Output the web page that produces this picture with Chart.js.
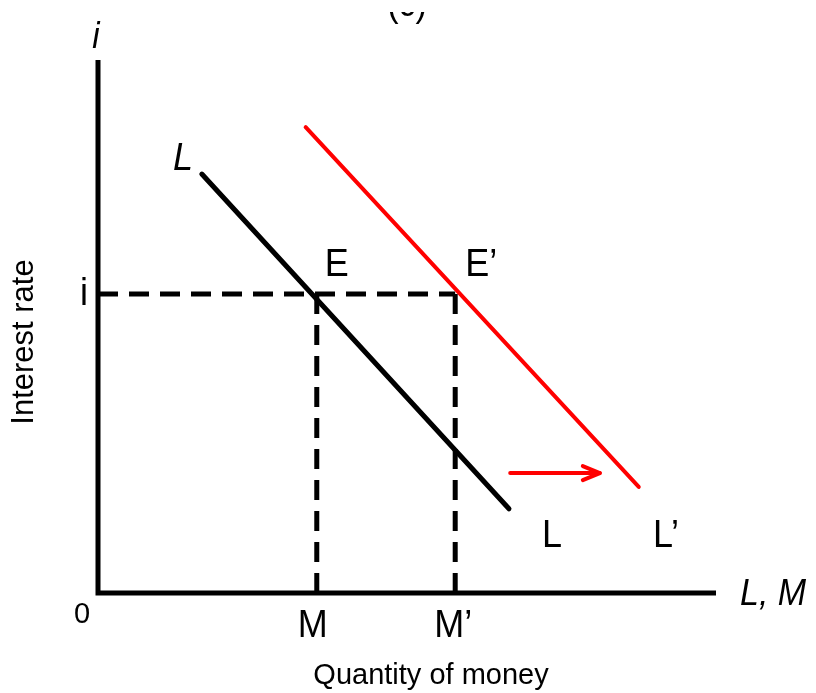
<!DOCTYPE html>
<html>
<head>
<meta charset="utf-8">
<script src="https://cdn.jsdelivr.net/npm/chart.js@4.4.1/dist/chart.umd.min.js"></script>
<style>
  html, body { margin: 0; padding: 0; background: #fff; }
  canvas { display: block; }
</style>
</head>
<body>
<canvas id="moneyChart" width="816" height="693"></canvas>
<script>
// money demand L and its shift to L'
const demandL = [{ x: 1.68, y: 7.86 }, { x: 6.65, y: 1.58 }];
const demandL2 = [{ x: 3.36, y: 8.74 }, { x: 8.75, y: 1.99 }];
// interest rate level and quantities at E and E'
const rateI = 5.61;
const qtyM = 3.54;
const qtyM2 = 5.78;
// shift arrow (tail, tip)
const shiftArrow = [{ x: 6.67, y: 2.25 }, { x: 8.12, y: 2.25 }];
const axisMax = 10;

const FONT = '"Liberation Sans", Arial, sans-serif';

function label(ctx, txt, x, y, opts) {
  opts = opts || {};
  ctx.save();
  if (opts.clipTop !== undefined) {
    ctx.beginPath();
    ctx.rect(0, opts.clipTop, chartWidth, 693);
    ctx.clip();
  }
  ctx.font = (opts.italic ? 'italic ' : '') + (opts.size || 36) + 'px ' + FONT;
  ctx.fillStyle = '#000';
  ctx.textAlign = opts.align || 'center';
  ctx.textBaseline = 'alphabetic';
  ctx.translate(x, y);
  if (opts.rotate) ctx.rotate(opts.rotate);
  ctx.scale(1, opts.stretch || 1.1);
  ctx.fillText(txt, 0, 0);
  ctx.restore();
}

const chartWidth = 816;

const textPlugin = {
  id: 'textPlugin',
  afterDatasetsDraw(chart) {
    const ctx = chart.ctx;
    const xs = chart.scales.x, ys = chart.scales.y;

    // red arrow head
    const tx = xs.getPixelForValue(shiftArrow[1].x);
    const ty = ys.getPixelForValue(shiftArrow[1].y);
    ctx.save();
    ctx.strokeStyle = '#ff0000';
    ctx.lineWidth = 4;
    ctx.lineCap = 'round';
    ctx.lineJoin = 'round';
    ctx.beginPath();
    ctx.moveTo(tx - 17, ty - 7);
    ctx.lineTo(tx, ty);
    ctx.lineTo(tx - 17, ty + 7);
    ctx.stroke();
    ctx.restore();

    const x0 = xs.getPixelForValue(0);
    const y0 = ys.getPixelForValue(0);
    const yi = ys.getPixelForValue(rateI);
    const xm = xs.getPixelForValue(qtyM);
    const xm2 = xs.getPixelForValue(qtyM2);

    // panel tag, top edge cut off
    label(ctx, '(c)', 407, 16, { size: 34, clipTop: 12 });
    label(ctx, 'i', x0 - 2, 48, { italic: true, size: 33 });
    label(ctx, 'L', 183, 170, { italic: true });
    label(ctx, 'E', xm + 20, yi - 18);
    label(ctx, 'E\u2019', xm2 + 10, yi - 18, { align: 'left' });
    label(ctx, 'i', x0 - 14, yi + 11);
    label(ctx, 'L', 542, 547, { align: 'left' });
    label(ctx, 'L\u2019', 653, 547, { align: 'left' });
    label(ctx, '0', x0 - 16, y0 + 30, { size: 29, stretch: 1 });
    label(ctx, 'M', xm - 4, y0 + 44);
    label(ctx, 'M\u2019', xm2 - 2, y0 + 44);
    label(ctx, 'L, M', 740, y0 + 12, { italic: true, size: 34, align: 'left' });
    label(ctx, 'Quantity of money', 431, 684, { size: 29, stretch: 1 });
    label(ctx, 'Interest rate', 33, 342, { size: 31, stretch: 1, rotate: -Math.PI / 2 });
  }
};

const dashed = {
  borderColor: '#000',
  borderWidth: 5,
  borderDash: [20, 11],
  pointRadius: 0,
  showLine: true,
  clip: false
};

new Chart(document.getElementById('moneyChart'), {
  type: 'scatter',
  data: {
    datasets: [
      {
        // axes
        data: [{ x: 0, y: axisMax }, { x: 0, y: 0 }, { x: axisMax, y: 0 }],
        borderColor: '#000',
        borderWidth: 5,
        borderJoinStyle: 'miter',
        pointRadius: 0,
        showLine: true,
        clip: false
      },
      Object.assign({ data: [{ x: 0, y: rateI }, { x: qtyM2, y: rateI }] }, dashed),
      Object.assign({ data: [{ x: qtyM, y: 0 }, { x: qtyM, y: rateI }] }, dashed),
      Object.assign({ data: [{ x: qtyM2, y: 0 }, { x: qtyM2, y: rateI }] }, dashed),
      {
        data: demandL,
        borderColor: '#000',
        borderWidth: 5,
        borderCapStyle: 'round',
        pointRadius: 0,
        showLine: true,
        clip: false
      },
      {
        data: demandL2,
        borderColor: '#ff0000',
        borderWidth: 4,
        borderCapStyle: 'round',
        pointRadius: 0,
        showLine: true,
        clip: false
      },
      {
        data: shiftArrow,
        borderColor: '#ff0000',
        borderWidth: 4,
        borderCapStyle: 'round',
        pointRadius: 0,
        showLine: true,
        clip: false
      }
    ]
  },
  options: {
    responsive: false,
    animation: false,
    devicePixelRatio: 1,
    layout: { padding: { left: 98, right: 100, top: 60, bottom: 100 } },
    plugins: { legend: { display: false }, tooltip: { enabled: false } },
    scales: {
      x: { type: 'linear', min: 0, max: axisMax, display: false },
      y: { type: 'linear', min: 0, max: axisMax, display: false }
    }
  },
  plugins: [textPlugin]
});
</script>
</body>
</html>
